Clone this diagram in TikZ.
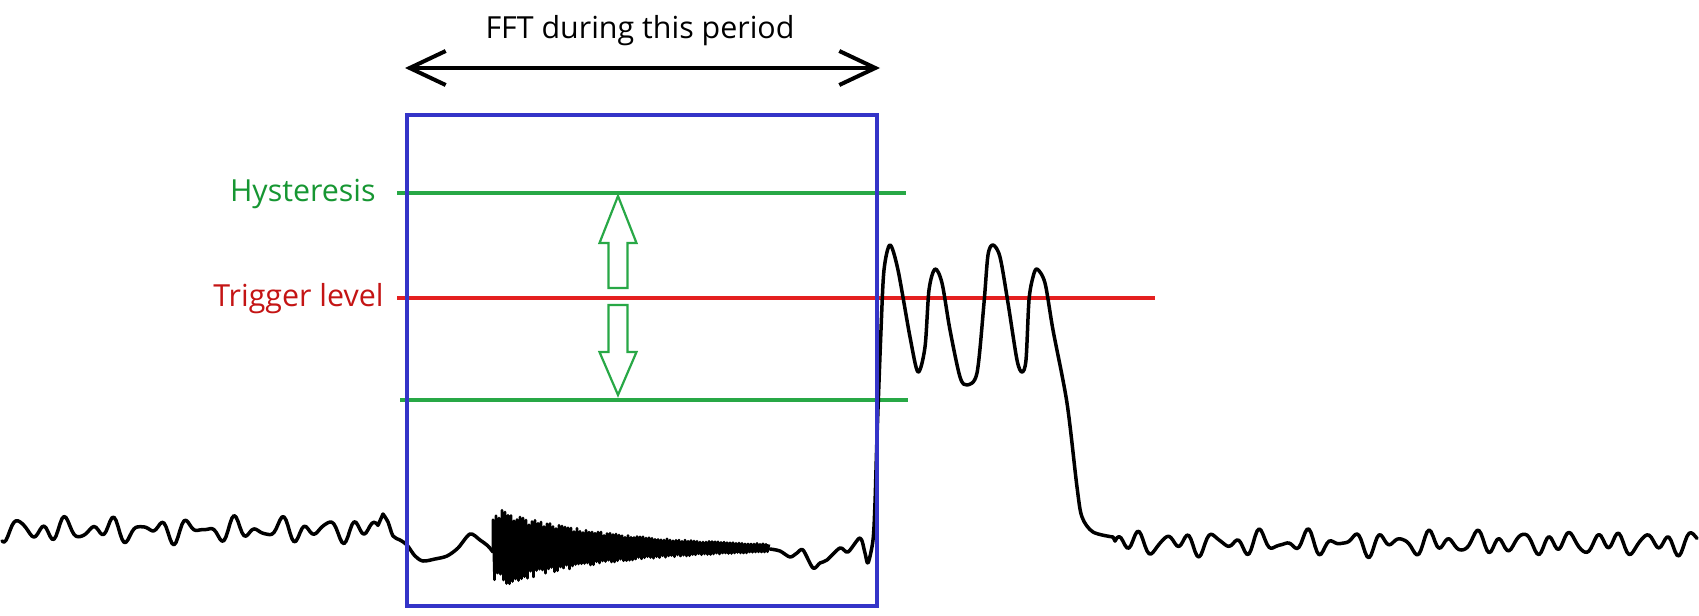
\documentclass[tikz,border=0pt]{standalone}
\usepackage{fontspec}
\setmainfont{Open Sans}
\usetikzlibrary{arrows.meta}
\definecolor{boxblue}{RGB}{52,52,200}
\definecolor{hystgreen}{RGB}{40,168,70}
\definecolor{hysttext}{RGB}{22,150,50}
\definecolor{trigred}{RGB}{228,32,32}
\definecolor{trigtext}{RGB}{196,20,20}
\begin{document}
\begin{tikzpicture}[x=0.5pt,y=-0.5pt,
  wave/.style={line width=1.75pt, line join=round, line cap=round, black},
  levelline/.style={line width=1.75pt},
  hollowarrow/.style={draw=hystgreen, line width=1.1pt, fill=white, line join=miter},
  lbl/.style={font=\fontsize{15.2}{17}\selectfont, inner sep=0pt}]
\useasboundingbox (0,0) rectangle (1699,616);

% FFT period arrow
\coordinate (fftL) at (405,68);
\coordinate (fftR) at (880,68);
\node[lbl, anchor=center] (fftlabel) at (640,31) {FFT during this period};
\draw[line width=2pt, {Straight Barb[length=18pt,width=17pt]}-{Straight Barb[length=18pt,width=17pt]}] (fftL) -- (fftR);

% levels
\coordinate (hL) at (397,193); \coordinate (hR) at (906,193);
\coordinate (tL) at (397,298); \coordinate (tR) at (1155,298);
\coordinate (lL) at (400,400); \coordinate (lR) at (908,400);
\draw[levelline, hystgreen] (hL) -- (hR);
\draw[levelline, hystgreen] (lL) -- (lR);
\draw[levelline, trigred] (tL) -- (tR);
\node[lbl, anchor=east, text=hysttext] (hyst) at (376,194) {Hysteresis};
\node[lbl, anchor=east, text=trigtext] (trig) at (384,299) {Trigger level};

% hollow arrows
\draw[hollowarrow] (618,196) -- (636.5,243) -- (627.5,243) -- (627.5,288) -- (608.5,288) -- (608.5,243) -- (599.5,243) -- cycle;
\draw[hollowarrow] (618,395) -- (636.5,352) -- (627.5,352) -- (627.5,305) -- (608.5,305) -- (608.5,352) -- (599.5,352) -- cycle;

% waveform
\draw[wave] plot[domain=2:378, samples=189, variable=\x]
   (\x, {530 + 7*sin(15*\x) + 3*sin(21*\x+40) + 5*sin(8.3*\x+100)})
 -- plot[smooth, tension=0.5] coordinates {(383,514) (388,522) (393,536) (400,540) (407,545) (415,556) (423,561) (435,559) (447,556) (458,548) (470,534) (480,540) (488,546) (493,552)};
\pgfmathsetseed{12}
\draw[line width=1.3pt, black, line join=round] (493,552)
  \foreach \i in {0,...,184} { -- ({493+\i*1.5}, {548 + (2*mod(\i,2)-1)*((\i*1.5 < 8 ? 30 : 36*exp(-(\i*1.5-8)/110))*(0.8+0.25*rnd)+1)}) };
\draw[wave] plot[smooth, tension=0.5] coordinates {(770,549) (780,551) (790,557) (797,553) (803,550) (813,568) (820,563) (827,560) (840,548) (848,552) (860,538) (865,553) (868,563)
  (873,540) (875,503) (877,437) (881,330) (884,270) (890,245) (898,270) (910,337) (918,372) (925,347) (929,290) (935,269) (942,283) (950,330) (960,377) (967,385) (977,373) (984,303) (988,255) (993,245) (1000,257) (1008,303) (1017,360) (1022,372) (1026,360) (1029,300) (1033,277) (1037,269) (1045,283) (1053,330) (1067,403) (1077,487) (1082,517) (1093,532) (1113,537)}
 -- plot[domain=1115:1697, samples=292, variable=\x]
   (\x, {543 + 7*sin(15*(\x-1100)+30) + 3*sin(21*(\x-1100)+200) + 5*sin(8.3*(\x-1100)+10)});

% FFT window box
\coordinate (boxNW) at (407,115);
\coordinate (boxSE) at (877,606);
\draw[boxblue, line width=2pt] (boxNW) rectangle (boxSE);
\end{tikzpicture}
\end{document}
